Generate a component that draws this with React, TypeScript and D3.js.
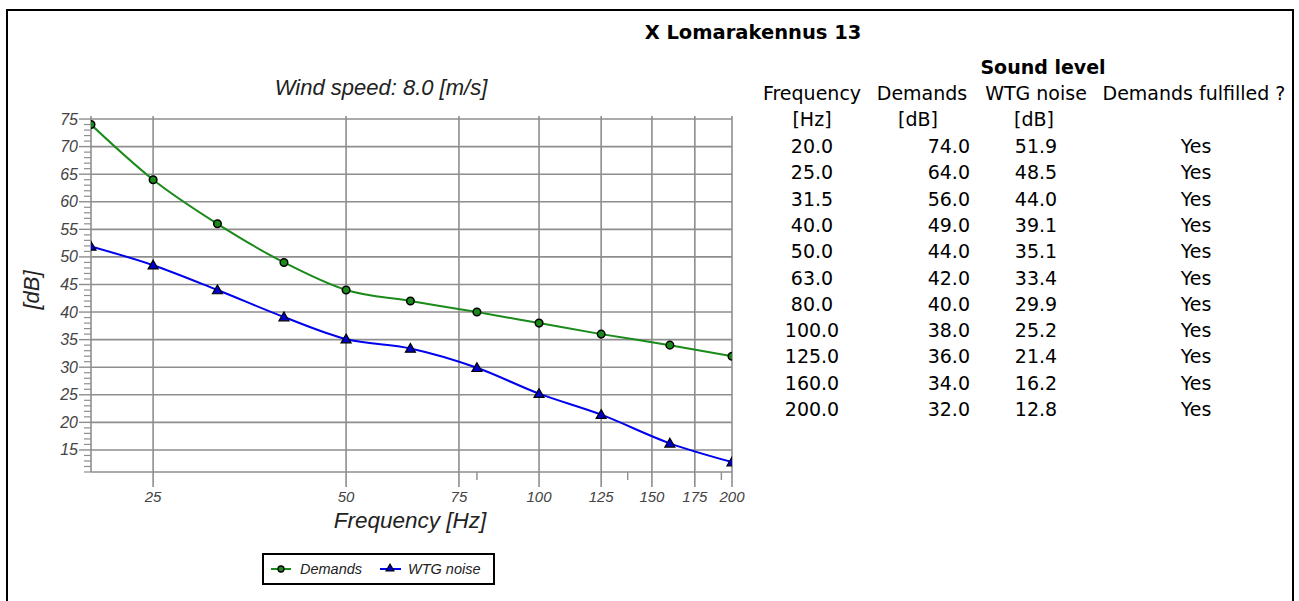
import React from "react";
import * as d3 from "d3";

const frequencies = [20, 25, 31.5, 40, 50, 63, 80, 100, 125, 160, 200];
const demands = [74, 64, 56, 49, 44, 42, 40, 38, 36, 34, 32];
const wtgNoise = [51.9, 48.5, 44.0, 39.1, 35.1, 33.4, 29.9, 25.2, 21.4, 16.2, 12.8];
const fulfilled = ["Yes", "Yes", "Yes", "Yes", "Yes", "Yes", "Yes", "Yes", "Yes", "Yes", "Yes"];
const xTickValues = [25, 50, 75, 100, 125, 150, 175, 200];
const xMinorTicks = [80, 137.5, 192.5];
const yTickValues = [15, 20, 25, 30, 35, 40, 45, 50, 55, 60, 65, 70, 75];

const W = 1299;
const H = 601;
const PL = 91, PR = 732, PT = 116, PB = 472;

export default function App() {
  const x = d3.scaleLog().domain([20, 200]).range([PL, PR]);
  const y = d3.scaleLinear().domain([11, 75.55]).range([PB, PT]);
  const minorY = d3.range(11, 76).filter((v) => v % 5 !== 0);

  const line = d3
    .line<[number, number]>()
    .x((d) => x(d[0]))
    .y((d) => y(d[1]))
    .curve(d3.curveMonotoneX);

  const demandPts = frequencies.map((f, i) => [f, demands[i]] as [number, number]);
  const wtgPts = frequencies.map((f, i) => [f, wtgNoise[i]] as [number, number]);

  const tri = (cx: number, cy: number, s: number) =>
    `M${cx},${cy - s} L${cx + s},${cy + s * 0.75} L${cx - s},${cy + s * 0.75} Z`;

  const gridColor = "#8e8e8e";
  const axisFont = "'Liberation Sans', Arial, sans-serif";
  const tableFont = "'DejaVu Sans', Tahoma, sans-serif";

  const rowY0 = 153;
  const rowStep = 26.3;

  return (
    <svg
      width={W}
      height={H}
      style={{ position: "absolute", left: 0, top: 0, background: "#fff" }}
    >
      <defs>
        <clipPath id="plotClip">
          <rect x={PL} y={PT - 5} width={PR - PL} height={PB - PT + 5} />
        </clipPath>
      </defs>
      <rect x={0} y={0} width={W} height={H} fill="#fff" />
      {/* outer frame */}
      <rect x={7} y={10} width={1286} height={H} fill="none" stroke="#000" strokeWidth={2} />

      {/* title */}
      <text x={753} y={39} textAnchor="middle" fontFamily={tableFont} fontWeight="bold" fontSize={19.5}>
        X Lomarakennus 13
      </text>

      {/* chart subtitle */}
      <text x={381} y={95} textAnchor="middle" fontFamily={axisFont} fontStyle="italic" fontSize={22} fill="#222">
        Wind speed: 8.0 [m/s]
      </text>

      {/* horizontal grid */}
      {yTickValues.map((v) => (
        <line key={"hg" + v} x1={PL} x2={PR} y1={y(v)} y2={y(v)} stroke={gridColor} strokeWidth={1.6} />
      ))}
      {/* vertical grid */}
      {xTickValues.map((v) => (
        <line key={"vg" + v} x1={x(v)} x2={x(v)} y1={PT} y2={PB + 15} stroke={gridColor} strokeWidth={1.6} />
      ))}
      {xMinorTicks.map((v) => (
        <line key={"xm" + v} x1={x(v)} x2={x(v)} y1={PB} y2={PB + 8} stroke={gridColor} strokeWidth={1.4} />
      ))}
      {/* axes */}
      <line x1={PL} x2={PL} y1={PT} y2={PB} stroke={gridColor} strokeWidth={1.6} />
      <line x1={PL} x2={PR} y1={PB} y2={PB} stroke={gridColor} strokeWidth={1.6} />
      {yTickValues.map((v) => (
        <line key={"yt" + v} x1={PL - 12} x2={PL} y1={y(v)} y2={y(v)} stroke={gridColor} strokeWidth={1.4} />
      ))}
      {minorY.map((v) => (
        <line key={"ym" + v} x1={PL - 7} x2={PL} y1={y(v)} y2={y(v)} stroke={gridColor} strokeWidth={1.2} />
      ))}
      {/* y labels */}
      {yTickValues.map((v) => (
        <text key={"yl" + v} x={PL - 13} y={y(v) + 5.5} textAnchor="end" fontFamily={axisFont} fontStyle="italic" fontSize={16} fill="#444">
          {v}
        </text>
      ))}
      {/* x labels */}
      {xTickValues.map((v) => (
        <text key={"xl" + v} x={x(v)} y={502} textAnchor="middle" fontFamily={axisFont} fontStyle="italic" fontSize={15} fill="#444">
          {v}
        </text>
      ))}
      <text x={410} y={528} textAnchor="middle" fontFamily={axisFont} fontStyle="italic" fontSize={22.5} fill="#222">
        Frequency [Hz]
      </text>
      <text
        transform={`translate(39,${290}) rotate(-90)`}
        textAnchor="middle"
        fontFamily={axisFont}
        fontStyle="italic"
        fontSize={22}
        fill="#222"
      >
        [dB]
      </text>

      {/* series */}
      <g clipPath="url(#plotClip)">
        <path d={line(demandPts) || ""} fill="none" stroke="#1a8a1a" strokeWidth={2} />
        <path d={line(wtgPts) || ""} fill="none" stroke="#0000ee" strokeWidth={2} />
        {demandPts.map((d, i) => (
          <circle key={"dc" + i} cx={x(d[0])} cy={y(d[1])} r={3.8} fill="#1a8a1a" stroke="#000" strokeWidth={1.5} />
        ))}
        {wtgPts.map((d, i) => (
          <path key={"wt" + i} d={tri(x(d[0]), y(d[1]), 5)} fill="#0000cc" stroke="#000" strokeWidth={1.2} />
        ))}
      </g>

      {/* legend */}
      <rect x={263} y={554} width={231} height={30} fill="#fff" stroke="#000" strokeWidth={2} />
      <line x1={271} x2={291} y1={569} y2={569} stroke="#1a8a1a" strokeWidth={2} />
      <circle cx={281} cy={569} r={3} fill="#1a8a1a" stroke="#000" strokeWidth={1.3} />
      <text x={300} y={574} fontFamily={axisFont} fontStyle="italic" fontSize={14.5} fill="#222">
        Demands
      </text>
      <line x1={380} x2={401} y1={569} y2={569} stroke="#0000ee" strokeWidth={2} />
      <path d={tri(390, 568, 4)} fill="#0000cc" stroke="#000" strokeWidth={1.1} />
      <text x={408} y={574} fontFamily={axisFont} fontStyle="italic" fontSize={14.5} fill="#222">
        WTG noise
      </text>

      {/* table */}
      <g fontFamily={tableFont} fontSize={19} fill="#000">
        <text x={1043} y={74} textAnchor="middle" fontWeight="bold">Sound level</text>
        <text x={812} y={100} textAnchor="middle">Frequency</text>
        <text x={922} y={100} textAnchor="middle">Demands</text>
        <text x={1036} y={100} textAnchor="middle">WTG noise</text>
        <text x={1194} y={100} textAnchor="middle">Demands fulfilled ?</text>
        <text x={812} y={126} textAnchor="middle">[Hz]</text>
        <text x={918} y={126} textAnchor="middle">[dB]</text>
        <text x={1034} y={126} textAnchor="middle">[dB]</text>
        {frequencies.map((f, i) => (
          <g key={"row" + i}>
            <text x={812} y={rowY0 + i * rowStep} textAnchor="middle">{f.toFixed(1)}</text>
            <text x={970} y={rowY0 + i * rowStep} textAnchor="end">{demands[i].toFixed(1)}</text>
            <text x={1036} y={rowY0 + i * rowStep} textAnchor="middle">{wtgNoise[i].toFixed(1)}</text>
            <text x={1196} y={rowY0 + i * rowStep} textAnchor="middle">{fulfilled[i]}</text>
          </g>
        ))}
      </g>
    </svg>
  );
}
